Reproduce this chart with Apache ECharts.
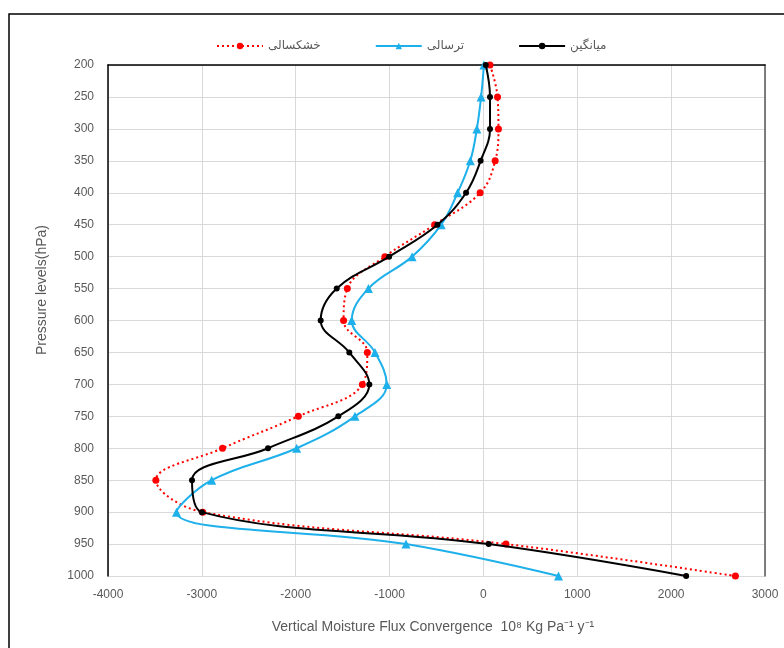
<!DOCTYPE html>
<html>
<head>
<meta charset="utf-8">
<script src="https://cdn.jsdelivr.net/npm/echarts@6/dist/echarts.min.js"></script>
<style>
html,body{margin:0;padding:0;background:#fff;}
#chart{width:784px;height:648px;}
</style>
</head>
<body>
<div id="chart"></div>
<script>
// Pressure levels (hPa)
const pressureLevels = [200,250,300,350,400,450,500,550,600,650,700,750,800,850,900,950,1000];
// Series values (10^8 Kg Pa^-1 y^-1)
const droughtVals = [70,150,160,125,-35,-520,-1050,-1450,-1490,-1237,-1290,-1972,-2780,-3490,-2990,240,2685];
const wetVals     = [5,-25,-70,-140,-275,-450,-760,-1226,-1403,-1155,-1030,-1369,-1990,-2895,-3270,-825,800];
const meanVals    = [25,70,70,-30,-185,-490,-1005,-1563,-1734,-1429,-1216,-1546,-2295,-3105,-3000,56,2160];
const seriesNames = ['خشکسالی','ترسالی','میانگین'];
const xTicks = {min:-4000, max:3000, step:1000};
const yTicks = {min:200, max:1000, step:50};

const pair = vals => vals.map((v,i)=>[v, pressureLevels[i]]);
const gray = '#595959';
const font = 'Liberation Sans';
const plain = v => String(v);

const chart = echarts.init(document.getElementById('chart'));
chart.setOption({
  animation:false,
  backgroundColor:'#fff',
  grid:{left:108, top:65, right:19, bottom:72},
  legend:{
    top:35, left:211, itemGap:54, itemWidth:46, itemHeight:8,
    textStyle:{color:gray, fontSize:12, fontFamily:'DejaVu Sans'},
    data:seriesNames
  },
  xAxis:[{
    type:'value', position:'bottom', min:xTicks.min, max:xTicks.max, interval:xTicks.step,
    axisLine:{show:false, onZero:false}, axisTick:{show:false},
    axisLabel:{color:gray, fontSize:12, fontFamily:font, margin:13, formatter:plain},
    splitLine:{lineStyle:{color:'#d9d9d9', width:1}}
  },{
    type:'value', position:'top', min:xTicks.min, max:xTicks.max, interval:xTicks.step,
    axisLine:{show:true, onZero:false, lineStyle:{color:'#000', width:1.5}}, axisTick:{show:false},
    axisLabel:{show:false}, splitLine:{show:false}
  }],
  yAxis:[{
    type:'value', inverse:true, position:'left', min:yTicks.min, max:yTicks.max, interval:yTicks.step,
    axisLine:{show:true, onZero:false, lineStyle:{color:'#000', width:1.5}}, axisTick:{show:false},
    axisLabel:{color:gray, fontSize:12, fontFamily:font, margin:14, formatter:plain},
    splitLine:{lineStyle:{color:'#d9d9d9', width:1}}
  },{
    type:'value', inverse:true, position:'right', min:yTicks.min, max:yTicks.max, interval:yTicks.step,
    axisLine:{show:true, onZero:false, lineStyle:{color:'#595959', width:1.5}}, axisTick:{show:false},
    axisLabel:{show:false}, splitLine:{show:false}
  }],
  graphic:[
    {type:'polyline', shape:{points:[[9,648],[9,14],[784,14]]}, style:{stroke:'#000', lineWidth:1.5, fill:null}},
    {type:'text', x:433, y:627, style:{text:'Vertical Moisture Flux Convergence  10⁸ Kg Pa⁻¹ y⁻¹', fill:gray, font:'14px "Liberation Sans"', textAlign:'center', textVerticalAlign:'middle'}},
    {type:'text', x:42, y:290, rotation:Math.PI/2, style:{text:'Pressure levels(hPa)', fill:gray, font:'14px "Liberation Sans"', textAlign:'center', textVerticalAlign:'middle'}}
  ],
  series:[
    {name:seriesNames[0], type:'line', data:pair(droughtVals), smooth:0.4,
     symbol:'circle', symbolSize:7, itemStyle:{color:'#ff0000'},
     lineStyle:{color:'#ff0000', width:2, type:[2,3]}, z:2},
    {name:seriesNames[1], type:'line', data:pair(wetVals), smooth:0.4,
     symbol:'triangle', symbolSize:9, itemStyle:{color:'#1eb0ea'},
     lineStyle:{color:'#1eb0ea', width:2}, z:3},
    {name:seriesNames[2], type:'line', data:pair(meanVals), smooth:0.4,
     symbol:'circle', symbolSize:6, itemStyle:{color:'#000'},
     lineStyle:{color:'#000', width:2}, z:4}
  ]
});
</script>
</body>
</html>
